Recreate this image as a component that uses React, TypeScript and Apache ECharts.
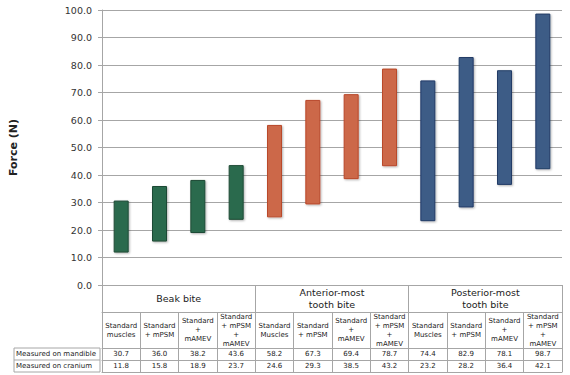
import React, { useEffect, useRef } from "react";
import * as echarts from "echarts";

const subHeaders = [
  "Standard\nmuscles", "Standard\n+ mPSM", "Standard\n+\nmAMEV", "Standard\n+ mPSM\n+\nmAMEV",
  "Standard\nMuscles", "Standard\n+ mPSM", "Standard\n+\nmAMEV", "Standard\n+ mPSM\n+\nmAMEV",
  "Standard\nMuscles", "Standard\n+ mPSM", "Standard\n+\nmAMEV", "Standard\n+ mPSM\n+\nmAMEV",
];
const groups = ["Beak bite", "Anterior-most\ntooth bite", "Posterior-most\ntooth bite"];
const mandible = [30.7, 36.0, 38.2, 43.6, 58.2, 67.3, 69.4, 78.7, 74.4, 82.9, 78.1, 98.7];
const cranium = [11.8, 15.8, 18.9, 23.7, 24.6, 29.3, 38.5, 43.2, 23.2, 28.2, 36.4, 42.1];
const rowLabels = ["Measured on mandible", "Measured on cranium"];
const yMin = 0;
const yMax = 100;
const yStep = 10;

const groupFill = ["#2c6a4d", "#cc6749", "#3e5b86"];
const groupBorder = ["#1d4a35", "#b9482a", "#203b66"];

const FONT = "DejaVu Sans";
const LINE = "#a6a6a6";
const TXT = "#222";

export default function App() {
  const ref = useRef<HTMLDivElement>(null);
  useEffect(() => {
    document.body.style.margin = "0";
    const chart = echarts.init(ref.current!, null, { renderer: "svg" });
    const idx = subHeaders.map((_, i) => String(i));
    const gIdx = groups.map((_, i) => String(i));
    const perGroup = subHeaders.length / groups.length;
    const gl = 100, gr = 8, gt = 10, gb = 90;
    const W = 570, H = 375;
    const baseY = H - gb;

    const tableAxis = (extra: any) => ({
      type: "category",
      gridIndex: 0,
      position: "bottom",
      boundaryGap: true,
      axisLine: { show: true, onZero: false, lineStyle: { color: LINE, width: 1 } },
      axisTick: { show: false },
      splitLine: { show: false },
      ...extra,
    });

    chart.setOption({
      animation: false,
      textStyle: { fontFamily: FONT },
      grid: { left: gl, right: gr, top: gt, bottom: gb, containLabel: false },
      xAxis: [
        tableAxis({
          data: idx,
          offset: 27,
          axisTick: { show: true, length: 60, interval: 0, lineStyle: { color: LINE } },
          axisLabel: {
            interval: 0,
            margin: 18,
            verticalAlign: "middle",
            fontSize: 7,
            lineHeight: 9,
            color: TXT,
            fontFamily: FONT,
            formatter: (_: string, i: number) => subHeaders[i],
          },
        }),
        tableAxis({
          data: gIdx,
          offset: 0,
          axisTick: { show: true, length: 87, interval: 0, lineStyle: { color: LINE } },
          axisLabel: {
            interval: 0,
            margin: 13.5,
            verticalAlign: "middle",
            fontSize: 9.5,
            lineHeight: 12,
            color: TXT,
            fontFamily: FONT,
            formatter: (_: string, i: number) => groups[i],
          },
        }),
        tableAxis({
          data: idx,
          offset: 63,
          axisLabel: {
            interval: 0,
            margin: 6,
            verticalAlign: "middle",
            fontSize: 7,
            color: TXT,
            fontFamily: FONT,
            formatter: (_: string, i: number) => mandible[i].toFixed(1),
          },
        }),
        tableAxis({
          data: idx,
          offset: 75,
          axisLabel: {
            interval: 0,
            margin: 6,
            verticalAlign: "middle",
            fontSize: 7,
            color: TXT,
            fontFamily: FONT,
            formatter: (_: string, i: number) => cranium[i].toFixed(1),
          },
        }),
        tableAxis({
          data: idx,
          offset: 87,
          axisLabel: { show: false },
        }),
      ],
      yAxis: {
        type: "value",
        min: yMin,
        max: yMax,
        interval: yStep,
        name: "Force (N)",
        nameLocation: "middle",
        nameRotate: 90,
        nameGap: 83,
        nameTextStyle: { fontSize: 11, fontWeight: "bold", color: TXT, fontFamily: FONT },
        axisLine: { show: true, lineStyle: { color: LINE } },
        axisTick: { show: true, length: 4, lineStyle: { color: LINE } },
        axisLabel: {
          margin: 10,
          fontSize: 9.5,
          color: "#333",
          fontFamily: FONT,
          formatter: (v: number) => v.toFixed(1),
        },
        splitLine: { show: true, lineStyle: { color: LINE, width: 1 } },
      },
      series: [
        {
          type: "bar",
          stack: "range",
          xAxisIndex: 0,
          barWidth: 15,
          silent: true,
          itemStyle: { color: "transparent" },
          data: cranium,
        },
        {
          type: "bar",
          stack: "range",
          xAxisIndex: 0,
          barWidth: 15,
          data: mandible.map((m, i) => {
            const g = Math.floor(i / perGroup);
            return {
              value: +(m - cranium[i]).toFixed(1),
              itemStyle: {
                color: groupFill[g],
                borderColor: groupBorder[g],
                borderWidth: 1,
                shadowColor: "rgba(0,0,0,0.3)",
                shadowBlur: 2,
                shadowOffsetX: 1,
                shadowOffsetY: 1,
              },
            };
          }),
        },
      ],
      graphic: [
        {
          type: "rect",
          shape: { x: 14, y: baseY + 63, width: gl - 14, height: 24 },
          style: { fill: "none", stroke: LINE, lineWidth: 1 },
          silent: true,
        },
        {
          type: "line",
          shape: { x1: 14, y1: baseY + 75, x2: gl, y2: baseY + 75 },
          style: { stroke: LINE, lineWidth: 1 },
          silent: true,
        },
        ...rowLabels.map((t, i) => ({
          type: "text",
          x: 16,
          y: baseY + 69 + i * 12,
          style: {
            text: t,
            fontSize: 7,
            fontFamily: FONT,
            fill: TXT,
            verticalAlign: "middle",
            align: "left",
          },
          silent: true,
        })),
      ],
    });
    return () => chart.dispose();
  }, []);
  return <div ref={ref} style={{ width: 570, height: 375 }} />;
}
